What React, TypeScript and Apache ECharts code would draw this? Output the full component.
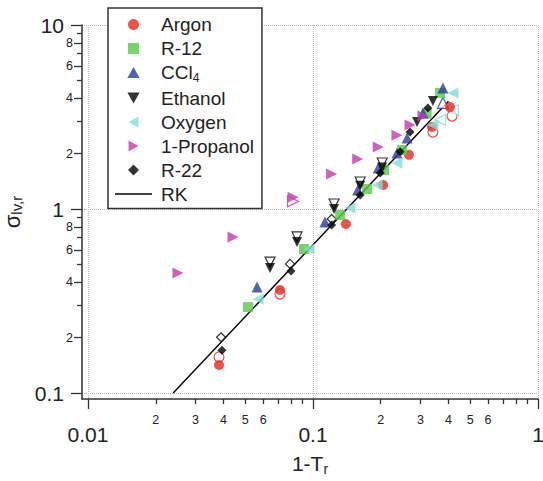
import React, { useEffect, useRef } from 'react';
import * as echarts from 'echarts';

// axis ranges (small padding below the lowest decade so the axes meet at the corner)
const xMin = 0.0094;
const xMax = 1;
const yMin = 0.0928;
const yMax = 10;

const xMajorTicks = [0.01, 0.1, 1];
const xMinorTicks = [0.02, 0.03, 0.04, 0.05, 0.06, 0.07, 0.08, 0.09, 0.2, 0.3, 0.4, 0.5, 0.6, 0.7, 0.8, 0.9];
const xMinorLabels = [0.02, 0.03, 0.04, 0.05, 0.06, 0.2, 0.3, 0.4, 0.5, 0.6];
const yMajorTicks = [0.1, 1, 10];
const yMinorLabeled = [0.2, 0.4, 0.6, 0.8, 2, 4, 6, 8];
const yMinorPlain = [0.3, 0.5, 0.7, 0.9, 3, 5, 7, 9];

const seriesNames = ['Argon', 'R-12', 'CCl4', 'Ethanol', 'Oxygen', '1-Propanol', 'R-22', 'RK'];

const argon = [[0.0382, 0.142], [0.0713, 0.363], [0.14, 0.829], [0.205, 1.35], [0.267, 1.97], [0.338, 2.79], [0.406, 3.58]];
const argonOpen = [[0.0382, 0.157], [0.0713, 0.345], [0.341, 2.62], [0.415, 3.2]];
const r12 = [[0.0514, 0.293], [0.0912, 0.606], [0.132, 0.928], [0.174, 1.284], [0.207, 1.629], [0.249, 2.093], [0.32, 3.3], [0.367, 4.27]];
const ccl4 = [[0.0564, 0.377], [0.113, 0.85], [0.158, 1.269], [0.195, 1.67], [0.236, 2.015], [0.262, 2.431], [0.308, 3.33], [0.378, 4.55]];
const ccl4Open = [[0.378, 3.77]];
const ethanol = [[0.0644, 0.478], [0.0849, 0.662], [0.124, 1.0], [0.162, 1.34], [0.203, 1.68], [0.29, 2.97], [0.341, 3.86]];
const ethanolOpen = [[0.0644, 0.515], [0.0849, 0.705], [0.124, 1.065], [0.162, 1.402], [0.203, 1.778]];
const oxygen = [[0.057, 0.324], [0.096, 0.606], [0.146, 1.013], [0.193, 1.35], [0.236, 1.778], [0.341, 2.86], [0.419, 4.27]];
const oxygenOpen = [[0.367, 3.05], [0.419, 3.45]];
const propanol = [[0.0251, 0.449], [0.0441, 0.705], [0.0815, 1.16], [0.121, 1.55], [0.158, 1.87], [0.195, 2.17], [0.236, 2.52], [0.27, 2.86], [0.308, 3.2]];
const propanolOpen = [[0.0815, 1.1]];
const r22 = [[0.0394, 0.171], [0.0798, 0.46], [0.121, 0.818], [0.162, 1.191], [0.199, 1.57], [0.244, 2.05], [0.27, 2.62], [0.324, 3.54]];
const r22Open = [[0.039, 0.201], [0.079, 0.503], [0.121, 0.882]];
const rk = [[0.0239, 0.1], [0.4, 3.85]];

const colors = {
  argon: '#e3261f',
  r12: '#58c94a',
  ccl4: '#2c399c',
  ethanol: '#000000',
  oxygen: '#86dcd3',
  propanol: '#c43aa9',
  r22: '#000000',
  rk: '#000000',
};

const FONT = "'Liberation Sans', Arial, Helvetica, sans-serif";
const TEXT = '#222';

const symSquare = 'path://M0,0 L10,0 L10,10 L0,10 Z';
const symUp = 'path://M5,0 L10,9 L0,9 Z';
const symDown = 'path://M0,0 L10,0 L5,9 Z';
const symLeft = 'path://M0,5 L9,0 L9,10 Z';
const symRight = 'path://M0,0 L9,5 L0,10 Z';
const symDiamond = 'path://M5,0 L10,5 L5,10 L0,5 Z';
const symLine = 'path://M0,0 L37,0 L37,1.4 L0,1.4 Z';

function fmtMajor(v: number) {
  if (v >= 1) return String(Math.round(v));
  return String(+v.toPrecision(1));
}
function fmtMinor(v: number) {
  const p = Math.pow(10, Math.floor(Math.log10(v) + 1e-9));
  return String(Math.round(v / p));
}

function scatter(name: string, data: number[][], symbol: string, color: string, size: number, open = false) {
  return {
    type: 'scatter',
    name,
    data,
    symbol,
    symbolSize: size,
    xAxisIndex: 0,
    yAxisIndex: 0,
    itemStyle: open
      ? { color: '#ffffff', borderColor: color, borderWidth: 1.2 }
      : { color },
    emphasis: { disabled: true },
    z: open ? 2 : 3,
  };
}

export default function App() {
  const ref = useRef<HTMLDivElement>(null);
  useEffect(() => {
    document.body.style.margin = '0';
    if (!ref.current) return;
    const chart = echarts.init(ref.current, undefined, { renderer: 'svg' });
    const axisLine = { show: true, lineStyle: { color: '#333', width: 1.5 } };
    const tickStyle = { color: '#333', width: 1.3 };
    const baseX = { type: 'log', logBase: 10, min: xMin, max: xMax, position: 'bottom', gridIndex: 0 };
    const baseY = { type: 'log', logBase: 10, min: yMin, max: yMax, position: 'left', gridIndex: 0 };
    chart.setOption({
      animation: false,
      backgroundColor: '#ffffff',
      grid: { left: 82, right: 5, top: 25, bottom: 82, containLabel: false, outerBoundsMode: 'none' },
      xAxis: [
        {
          ...baseX,
          axisLine,
          axisTick: { show: true, customValues: xMajorTicks, length: 10, lineStyle: tickStyle },
          axisLabel: { customValues: xMajorTicks, formatter: fmtMajor, fontSize: 21, margin: 25, color: TEXT, fontFamily: FONT },
          splitLine: { show: true, lineStyle: { type: 'dotted', color: '#bbb', width: 1 } },
          minorTick: { show: false },
          name: '{a|1-T}{s|r}',
          nameLocation: 'middle',
          nameGap: 52,
          nameTextStyle: {
            color: TEXT,
            fontFamily: FONT,
            rich: {
              a: { fontSize: 21, fontFamily: FONT, color: TEXT },
              s: { fontSize: 14, fontFamily: FONT, color: TEXT, padding: [11, 0, 0, 0] },
            },
          },
        },
        {
          ...baseX,
          axisLine: { show: false },
          axisTick: { show: true, customValues: xMinorTicks, length: 5, lineStyle: tickStyle },
          axisLabel: { customValues: xMinorLabels, formatter: fmtMinor, fontSize: 12.5, margin: 14, color: TEXT, fontFamily: FONT },
          splitLine: { show: false },
        },
      ],
      yAxis: [
        {
          ...baseY,
          axisLine,
          axisTick: { show: true, customValues: yMajorTicks, length: 11, lineStyle: tickStyle },
          axisLabel: { customValues: yMajorTicks, formatter: fmtMajor, fontSize: 21, margin: 18, color: TEXT, fontFamily: FONT },
          splitLine: { show: true, lineStyle: { type: 'dotted', color: '#bbb', width: 1 } },
          name: '{a|σ}{s|lv,r}',
          nameLocation: 'middle',
          nameGap: 46,
          nameTextStyle: {
            color: TEXT,
            fontFamily: FONT,
            rich: {
              a: { fontSize: 22, fontFamily: FONT, color: TEXT },
              s: { fontSize: 15, fontFamily: FONT, color: TEXT, padding: [7, 0, 0, 0] },
            },
          },
        },
        {
          ...baseY,
          axisLine: { show: false },
          axisTick: { show: true, customValues: yMinorLabeled, length: 8, lineStyle: tickStyle },
          axisLabel: { customValues: yMinorLabeled, formatter: fmtMinor, fontSize: 12.5, margin: 9, color: TEXT, fontFamily: FONT },
          splitLine: { show: false },
        },
        {
          ...baseY,
          axisLine: { show: false },
          axisTick: { show: true, customValues: yMinorPlain, length: 5, lineStyle: tickStyle },
          axisLabel: { show: false },
          splitLine: { show: false },
        },
      ],
      legend: {
        data: seriesNames.map((n) => (n === 'RK' ? { name: n, icon: symLine } : { name: n })),
        orient: 'vertical',
        left: 108,
        top: 8,
        padding: [7, 8, 5, 7],
        itemGap: 5,
        itemWidth: 37,
        itemHeight: 11,
        symbolKeepAspect: true,
        borderColor: '#333',
        borderWidth: 1.5,
        backgroundColor: '#ffffff',
        selectedMode: false,
        formatter: (n: string) => (n === 'CCl4' ? '{t|CCl}{s|4}' : '{t|' + n + '}'),
        textStyle: {
          color: TEXT,
          fontFamily: FONT,
          fontSize: 19,
          rich: {
            t: { fontSize: 19, fontFamily: FONT, color: TEXT, padding: [0, 0, 0, 4] },
            s: { fontSize: 12, fontFamily: FONT, color: TEXT, padding: [10, 0, 0, 0] },
          },
        },
      },
      series: [
        {
          type: 'line',
          name: 'RK',
          data: rk,
          symbol: 'none',
          xAxisIndex: 0,
          yAxisIndex: 0,
          lineStyle: { color: colors.rk, width: 1.4 },
          itemStyle: { color: colors.rk },
          z: 1,
        },
        scatter('Argon open', argonOpen, 'circle', colors.argon, 10, true),
        scatter('CCl4 open', ccl4Open, symUp, colors.ccl4, 11, true),
        scatter('Ethanol open', ethanolOpen, symDown, colors.ethanol, 10, true),
        scatter('Oxygen open', oxygenOpen, symLeft, colors.oxygen, 11, true),
        scatter('1-Propanol open', propanolOpen, symRight, colors.propanol, 11, true),
        scatter('R-22 open', r22Open, symDiamond, colors.r22, 9, true),
        scatter('Argon', argon, 'circle', colors.argon, 10),
        scatter('R-12', r12, symSquare, colors.r12, 10),
        scatter('CCl4', ccl4, symUp, colors.ccl4, 11),
        scatter('Ethanol', ethanol, symDown, colors.ethanol, 10),
        scatter('Oxygen', oxygen, symLeft, colors.oxygen, 11),
        scatter('1-Propanol', propanol, symRight, colors.propanol, 11),
        scatter('R-22', r22, symDiamond, colors.r22, 9),
      ],
    });
    return () => chart.dispose();
  }, []);
  return <div ref={ref} style={{ position: 'fixed', left: 0, top: 0, width: 543, height: 481 }} />;
}
